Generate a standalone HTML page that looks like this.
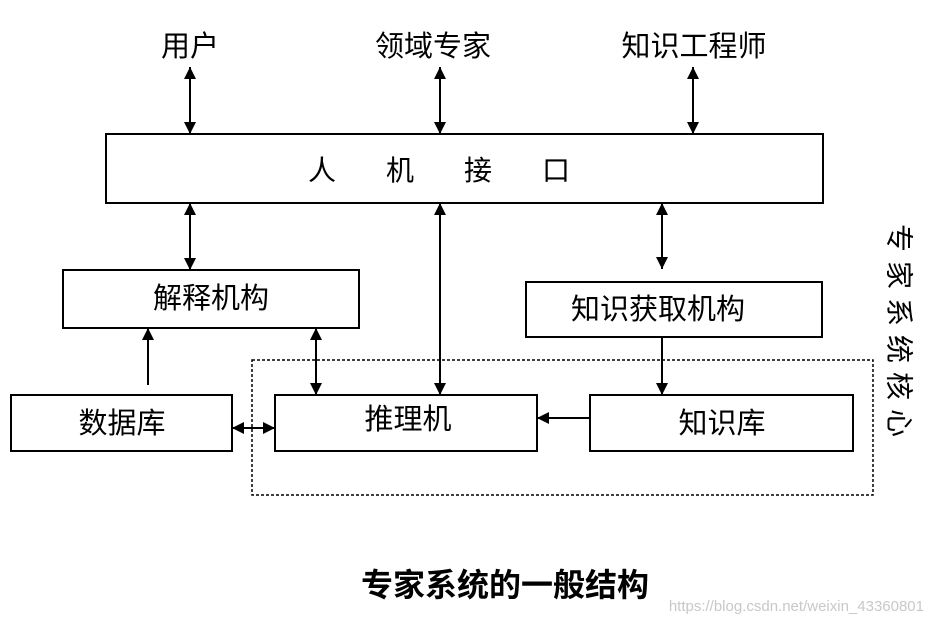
<!DOCTYPE html>
<html><head><meta charset="utf-8"><style>
html,body{margin:0;padding:0;background:#fff;}
svg{display:block;}
text{font-family:"Liberation Sans","Noto Sans CJK SC","WenQuanYi Zen Hei",sans-serif;fill:#000;}
</style></head><body>
<svg width="929" height="622" viewBox="0 0 929 622" xmlns="http://www.w3.org/2000/svg">
<defs>
<marker id="a" viewBox="0 0 10 10" refX="10" refY="5" markerWidth="12" markerHeight="12" markerUnits="userSpaceOnUse" orient="auto-start-reverse"><path d="M0,0 L10,5 L0,10 z" fill="#000"/></marker>
</defs>
<g fill="none" stroke="#000" stroke-width="2">
<rect x="106" y="134" width="717" height="69"/>
<rect x="63" y="270" width="296" height="58"/>
<rect x="526" y="282" width="296" height="55"/>
<rect x="11" y="395" width="221" height="56"/>
<rect x="275" y="395" width="262" height="56"/>
<rect x="590" y="395" width="263" height="56"/>
</g>
<rect x="252" y="360" width="621" height="135" fill="none" stroke="#000" stroke-width="1.5" stroke-dasharray="3,2"/>
<g stroke="#000" stroke-width="2" marker-start="url(#a)" marker-end="url(#a)">
<line x1="190" y1="67" x2="190" y2="134"/>
<line x1="440" y1="67" x2="440" y2="134"/>
<line x1="693" y1="67" x2="693" y2="134"/>
<line x1="190" y1="203" x2="190" y2="270"/>
<line x1="440" y1="203" x2="440" y2="395"/>
<line x1="662" y1="203" x2="662" y2="269"/>
<line x1="316" y1="328" x2="316" y2="395"/>
<line x1="232" y1="428" x2="275" y2="428"/>
</g>
<g stroke="#000" stroke-width="2" marker-end="url(#a)">
<line x1="148" y1="385" x2="148" y2="328"/>
<line x1="662" y1="337" x2="662" y2="395"/>
<line x1="590" y1="418" x2="537" y2="418"/>
</g>
<g font-size="29" text-anchor="middle">
<text x="190" y="56">用户</text>
<text x="433" y="56">领域专家</text>
<text x="694" y="56">知识工程师</text>
<text x="464" y="180" font-size="28" letter-spacing="50">人机接口</text>
<text x="211" y="308">解释机构</text>
<text x="658" y="319">知识获取机构</text>
<text x="122" y="433">数据库</text>
<text x="408" y="429">推理机</text>
<text x="722" y="433">知识库</text>
</g>
<text x="899" y="335" font-size="28" text-anchor="middle" dominant-baseline="central" letter-spacing="9" transform="rotate(90 899 335)">专家系统核心</text>
<text x="505" y="596" font-size="32" font-weight="bold" text-anchor="middle">专家系统的一般结构</text>
<text x="924" y="611" font-size="15" text-anchor="end" style="fill:#c8c8c8">https://blog.csdn.net/weixin_43360801</text>
</svg>
</body></html>
